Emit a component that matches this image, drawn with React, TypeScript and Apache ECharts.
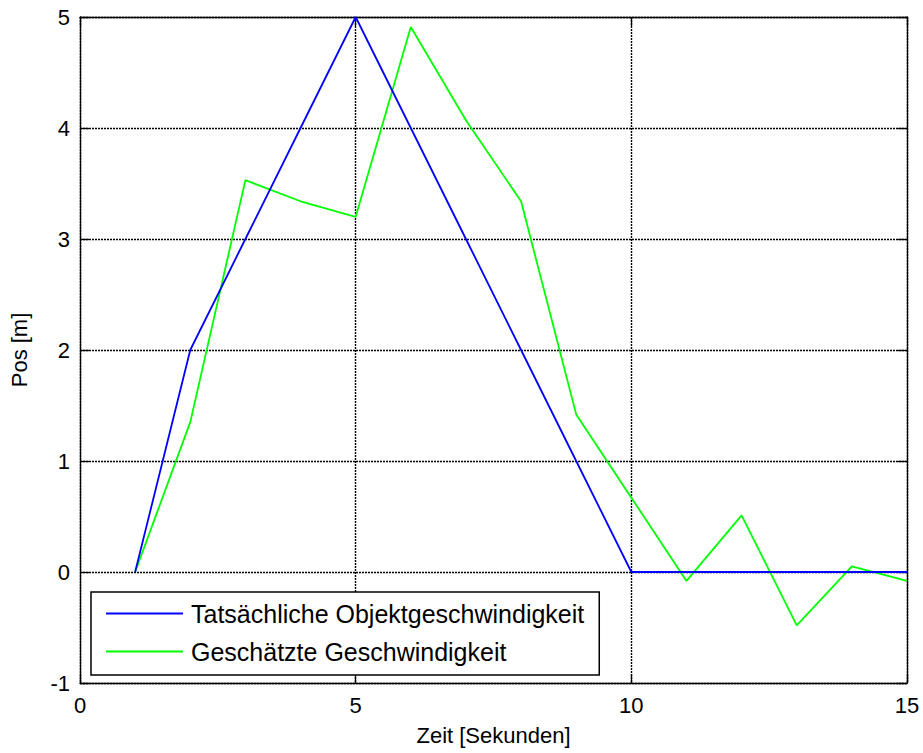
import React, { useEffect, useRef } from "react";
import * as echarts from "echarts";

const timeSeconds = [1, 2, 3, 4, 5, 6, 7, 8, 9, 10, 11, 12, 13, 14, 15];
const actualSpeed = [0, 2, 3, 4, 5, 4, 3, 2, 1, 0, 0, 0, 0, 0, 0];
const estimatedSpeed = [0, 1.35, 3.53, 3.34, 3.2, 4.91, 4.07, 3.34, 1.42, 0.67, -0.08, 0.51, -0.48, 0.05, -0.08];
const seriesNames = ["Tatsächliche Objektgeschwindigkeit", "Geschätzte Geschwindigkeit"];
const xTitle = "Zeit [Sekunden]";
const yTitle = "Pos [m]";

const FONT = "Liberation Sans, Arial, sans-serif";

export default function App() {
  const ref = useRef<HTMLDivElement>(null);
  useEffect(() => {
    document.body.style.margin = "0";
    document.body.style.overflow = "hidden";
    if (!ref.current) return;
    const chart = echarts.init(ref.current, undefined, { renderer: "svg" });
    const axisCommon = {
      axisLine: { show: true, onZero: false, lineStyle: { color: "#000", width: 1.3 } },
      axisTick: { show: true, inside: true, length: 9, lineStyle: { color: "#000", width: 1.3 } },
    };
    const gridLine = { show: true, lineStyle: { color: "#000", type: [2, 1], width: 1.4 } };
    chart.setOption({
      animation: false,
      backgroundColor: "#fff",
      textStyle: { fontFamily: FONT },
      grid: { left: 78, top: 17, right: 16, bottom: 70, containLabel: false },
      xAxis: [
        {
          type: "value",
          min: 0,
          max: 15,
          interval: 5,
          name: xTitle,
          nameLocation: "middle",
          nameGap: 41,
          nameTextStyle: { color: "#000", fontSize: 22, fontFamily: FONT },
          axisLabel: { color: "#000", fontSize: 22, margin: 11, fontFamily: FONT },
          splitLine: gridLine,
          ...axisCommon,
        },
        {
          type: "value",
          position: "top",
          min: 0,
          max: 15,
          interval: 5,
          axisLabel: { show: false },
          splitLine: { show: false },
          ...axisCommon,
        },
      ],
      yAxis: [
        {
          type: "value",
          min: -1,
          max: 5,
          interval: 1,
          name: yTitle,
          nameLocation: "middle",
          nameGap: 50,
          nameTextStyle: { color: "#000", fontSize: 22, fontFamily: FONT },
          axisLabel: { color: "#000", fontSize: 22, margin: 10, fontFamily: FONT },
          splitLine: gridLine,
          ...axisCommon,
        },
        {
          type: "value",
          position: "right",
          min: -1,
          max: 5,
          interval: 1,
          axisLabel: { show: false },
          splitLine: { show: false },
          ...axisCommon,
        },
      ],
      legend: {
        orient: "vertical",
        left: 91,
        top: 592,
        padding: [9, 15, 11, 15],
        itemGap: 13,
        itemWidth: 77,
        itemHeight: 2,
        icon: "rect",
        borderColor: "#000",
        borderWidth: 1.5,
        backgroundColor: "#fff",
        borderRadius: 0,
        textStyle: { color: "#000", fontSize: 25, fontFamily: FONT, padding: [0, 0, 0, 3] },
        data: seriesNames,
      },
      series: [
        {
          name: seriesNames[0],
          type: "line",
          data: timeSeconds.map((t, i) => [t, actualSpeed[i]]),
          showSymbol: false,
          symbol: "none",
          lineStyle: { color: "#0000ff", width: 1.8 },
          itemStyle: { color: "#0000ff" },
          z: 3,
        },
        {
          name: seriesNames[1],
          type: "line",
          data: timeSeconds.map((t, i) => [t, estimatedSpeed[i]]),
          showSymbol: false,
          symbol: "none",
          lineStyle: { color: "#00ff00", width: 1.8 },
          itemStyle: { color: "#00ff00" },
          z: 2,
        },
      ],
    });
    return () => chart.dispose();
  }, []);
  return <div ref={ref} style={{ width: 923, height: 753 }} />;
}
